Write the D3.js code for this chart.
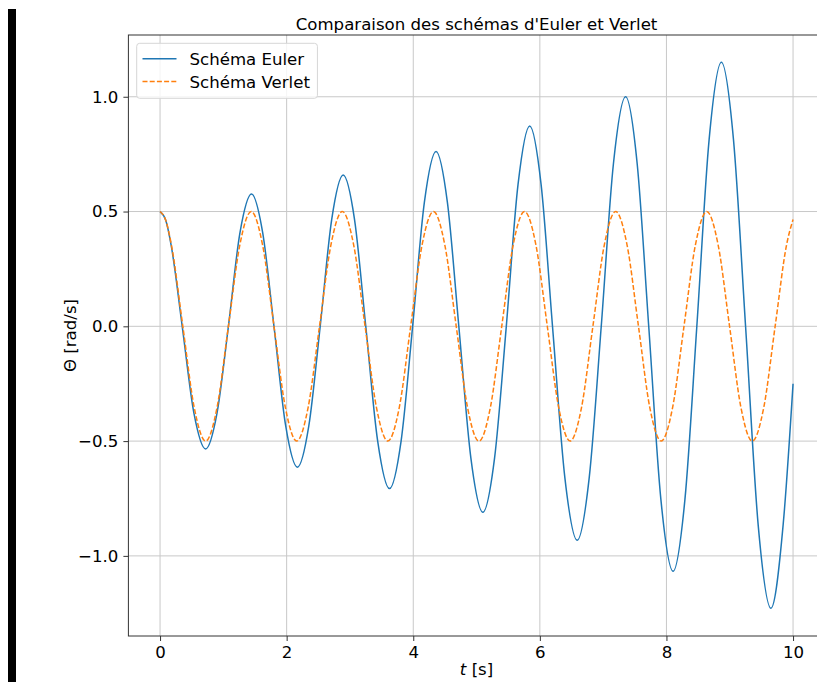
<!DOCTYPE html>
<html>
<head>
<meta charset="utf-8">
<script src="https://cdn.jsdelivr.net/npm/d3@7"></script>
<style>
  html, body { margin: 0; padding: 0; background: #fff; }
  svg { display: block; }
  text { font-family: "DejaVu Sans", sans-serif; fill: #000; }
</style>
</head>
<body>
<script>
// Pendulum angle versus time, two integration schemes: [t (s), theta]
const eulerPoints = [
  [0, 0.5], [0.09, 0.462], [0.175, 0.354], [0.35, 0], [0.535, -0.378], [0.72, -0.534],
  [0.90, -0.378], [1.08, 0], [1.262, 0.407], [1.445, 0.576], [1.622, 0.407], [1.80, 0],
  [1.985, -0.434], [2.17, -0.614], [2.35, -0.434], [2.53, 0], [2.712, 0.466], [2.893, 0.659],
  [3.072, 0.466], [3.25, 0], [3.438, -0.5], [3.625, -0.707], [3.808, -0.5], [3.99, 0],
  [4.175, 0.539], [4.36, 0.762], [4.54, 0.539], [4.72, 0], [4.91, -0.573], [5.10, -0.81],
  [5.285, -0.573], [5.47, 0], [5.655, 0.617], [5.84, 0.873], [6.02, 0.617], [6.20, 0],
  [6.395, -0.659], [6.59, -0.932], [6.78, -0.659], [6.97, 0], [7.162, 0.707], [7.355, 1.0],
  [7.538, 0.707], [7.72, 0], [7.912, -0.754], [8.105, -1.067], [8.292, -0.754], [8.48, 0],
  [8.674, 0.813], [8.868, 1.15], [9.059, 0.813], [9.25, 0], [9.45, -0.868], [9.65, -1.228],
  [9.845, -0.86], [10.0, -0.25]
];

const verletPoints = [
  [0, 0.5], [0.09, 0.462], [0.18, 0.354], [0.36, 0], [0.54, -0.354], [0.72, -0.5],
  [0.90, -0.354], [1.08, 0], [1.26, 0.354], [1.44, 0.5], [1.62, 0.354], [1.80, 0],
  [1.98, -0.354], [2.159, -0.5], [2.339, -0.354], [2.519, 0], [2.699, 0.354], [2.879, 0.5],
  [3.059, 0.354], [3.239, 0], [3.419, -0.354], [3.599, -0.5], [3.779, -0.354], [3.959, 0],
  [4.139, 0.354], [4.319, 0.5], [4.499, 0.354], [4.679, 0], [4.858, -0.354], [5.038, -0.5],
  [5.218, -0.354], [5.398, 0], [5.578, 0.354], [5.758, 0.5], [5.938, 0.354], [6.118, 0],
  [6.298, -0.354], [6.478, -0.5], [6.658, -0.354], [6.838, 0], [7.018, 0.354], [7.198, 0.5],
  [7.378, 0.354], [7.558, 0], [7.737, -0.354], [7.917, -0.5], [8.097, -0.354], [8.277, 0],
  [8.457, 0.354], [8.637, 0.5], [8.817, 0.354], [8.997, 0], [9.177, -0.354], [9.357, -0.5],
  [9.537, -0.354], [9.717, 0], [9.897, 0.354], [10.0, 0.465]
];

const xTicks = [0, 2, 4, 6, 8, 10];
const yTicks = [-1.0, -0.5, 0.0, 0.5, 1.0];
const seriesNames = ["Schéma Euler", "Schéma Verlet"];
const seriesColors = ["#1f77b4", "#ff7f0e"];
const titleText = "Comparaison des schémas d'Euler et Verlet";

const W = 817, H = 682;
const FS = 16.6;
const plot = { left: 128.4, right: 824.7, top: 35, bottom: 636 };

const svg = d3.select("body").append("svg").attr("width", W).attr("height", H);
svg.append("rect").attr("width", W).attr("height", H).attr("fill", "#fff");

// dark strip at the left edge of the figure
svg.append("rect").attr("x", 8).attr("y", 9).attr("width", 8).attr("height", H - 9).attr("fill", "#000");

const x = d3.scaleLinear().domain([-0.5, 10.5]).range([plot.left, plot.right]);
const y = d3.scaleLinear().domain([-1.349, 1.269]).range([plot.bottom, plot.top]);

// grid
const grid = svg.append("g").attr("stroke", "#c8c8c8").attr("stroke-width", 1);
grid.selectAll("line.gx").data(xTicks).join("line")
  .attr("x1", d => x(d)).attr("x2", d => x(d))
  .attr("y1", plot.top).attr("y2", plot.bottom);
grid.selectAll("line.gy").data(yTicks).join("line")
  .attr("x1", plot.left).attr("x2", plot.right)
  .attr("y1", d => y(d)).attr("y2", d => y(d));

// curves
const line = d3.line().x(d => x(d[0])).y(d => y(d[1])).curve(d3.curveMonotoneX);
svg.append("path").datum(eulerPoints)
  .attr("d", line).attr("fill", "none")
  .attr("stroke", seriesColors[0]).attr("stroke-width", 1.5);
svg.append("path").datum(verletPoints)
  .attr("d", line).attr("fill", "none")
  .attr("stroke", seriesColors[1]).attr("stroke-width", 1.5)
  .attr("stroke-dasharray", "5,2.2");

// axes
const fmtY = d3.format(".1f");
const xAxis = d3.axisBottom(x).tickValues(xTicks).tickFormat(d3.format("d")).tickSizeInner(5).tickSizeOuter(0).tickPadding(5);
const yAxis = d3.axisLeft(y).tickValues(yTicks).tickFormat(fmtY).tickSizeInner(5).tickSizeOuter(0).tickPadding(5);

const gx = svg.append("g").attr("transform", `translate(0,${plot.bottom})`).call(xAxis);
const gy = svg.append("g").attr("transform", `translate(${plot.left},0)`).call(yAxis);
[gx, gy].forEach(g => {
  g.select(".domain").remove();
  g.selectAll(".tick line").attr("stroke", "#333").attr("stroke-width", 1);
  g.selectAll(".tick text").attr("font-family", "DejaVu Sans").attr("font-size", FS).attr("fill", "#000");
});

// spines
const spines = svg.append("g").attr("stroke", "#333").attr("stroke-width", 1).attr("fill", "none");
spines.append("rect")
  .attr("x", plot.left).attr("y", plot.top)
  .attr("width", plot.right - plot.left).attr("height", plot.bottom - plot.top);

// title and axis labels
svg.append("text")
  .attr("x", (plot.left + plot.right) / 2).attr("y", 30)
  .attr("text-anchor", "middle").attr("font-size", FS)
  .text(titleText);

const xl = svg.append("text")
  .attr("x", (plot.left + plot.right) / 2).attr("y", 675)
  .attr("text-anchor", "middle").attr("font-size", FS);
xl.append("tspan").attr("font-style", "italic").text("t");
xl.append("tspan").text(" [s]");

svg.append("text")
  .attr("transform", `translate(76,${(plot.top + plot.bottom) / 2}) rotate(-90)`)
  .attr("text-anchor", "middle").attr("font-size", FS)
  .text("Θ [rad/s]");

// legend
const lg = svg.append("g");
const lgBox = lg.append("rect")
  .attr("x", 136.7).attr("y", 43.3).attr("rx", 3).attr("ry", 3)
  .attr("fill", "#fff").attr("fill-opacity", 0.8)
  .attr("stroke", "#d6d6d6").attr("stroke-width", 1);
const rowY = [58.8, 81.6];
let maxW = 0;
seriesNames.forEach((name, i) => {
  const l = lg.append("line")
    .attr("x1", 142.5).attr("x2", 176.5).attr("y1", rowY[i]).attr("y2", rowY[i])
    .attr("stroke", seriesColors[i]).attr("stroke-width", 1.5);
  if (i === 1) l.attr("stroke-dasharray", "5,2.2");
  const t = lg.append("text")
    .attr("x", 189.5).attr("y", rowY[i] + 6)
    .attr("font-size", FS).text(name);
  maxW = Math.max(maxW, t.node().getComputedTextLength());
});
lgBox.attr("width", 189.5 + maxW + 7.5 - 136.7).attr("height", 55);
</script>
</body>
</html>
